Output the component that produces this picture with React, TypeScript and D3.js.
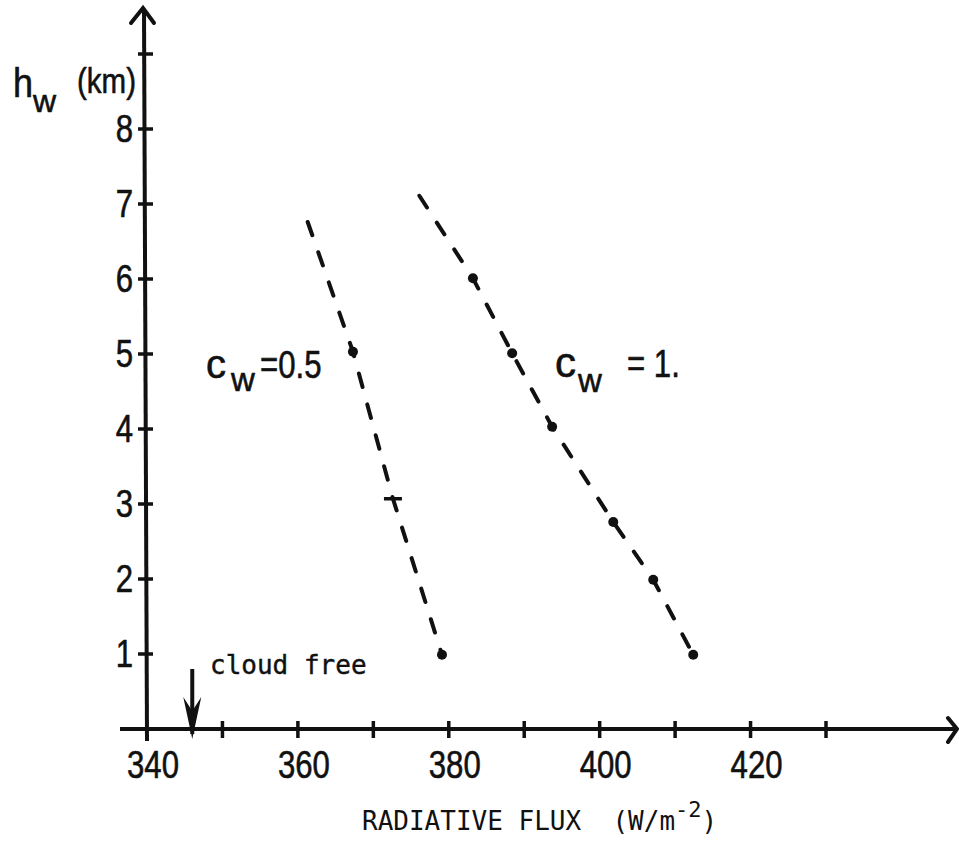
import React from 'react';
import * as d3 from 'd3';

// values
const xTicks = [350, 360, 370, 380, 390, 400, 410, 420, 430];
const xTickLabels = [340, 360, 380, 400, 420];
const yTicks = [1, 2, 3, 4, 5, 6, 7, 8, 9];
const yTickLabels = [1, 2, 3, 4, 5, 6, 7, 8];

const cw05Flux = [361.3, 367.3, 372.6, 379.1];
const cw05Height = [6.76, 5.03, 3.07, 0.99];
const cw05Marker = ['none', 'dot', 'bar', 'dot'];

const cw1Flux = [376.1, 383.2, 388.4, 393.7, 401.8, 407.1, 412.4];
const cw1Height = [7.11, 6.01, 5.01, 4.03, 2.76, 1.99, 0.99];
const cw1Marker = ['none', 'dot', 'dot', 'dot', 'dot', 'dot', 'dot'];

const cloudFreeFlux = 346;

const ink = '#111';
const letterFont = 'Liberation Sans, Arial, sans-serif';
const monoFont = 'DejaVu Sans Mono, monospace';

// hand lettering: narrow, with a bit of pen weight
function Letter({ x, y, size, anchor = 'start', sx = 0.82, children }: any) {
    return (
        <text
            transform={`translate(${x},${y}) scale(${sx},1)`}
            fontSize={size}
            textAnchor={anchor}
            fontFamily={letterFont}
            fill={ink}
            stroke={ink}
            strokeWidth={0.6}
            strokeLinejoin="round"
        >
            {children}
        </text>
    );
}

function Series({ flux, height, markers, xScale, yScale }: any) {
    const pts = flux.map((f: number, i: number) => [xScale(f), yScale(height[i])]);
    const line = d3.line();
    return (
        <g>
            <path d={line(pts) || ''} fill="none" stroke={ink} strokeWidth={4}
                strokeDasharray="14 18" strokeLinecap="round" />
            {pts.map((p: number[], i: number) => {
                if (markers[i] === 'dot') {
                    return <circle key={i} cx={p[0]} cy={p[1]} r={5} fill={ink} />;
                }
                if (markers[i] === 'bar') {
                    return <line key={i} x1={p[0] - 9} x2={p[0] + 9} y1={p[1]} y2={p[1]}
                        stroke={ink} strokeWidth={3.5} />;
                }
                return null;
            })}
        </g>
    );
}

export default function App() {
    const width = 959;
    const height = 850;

    const xScale = d3.scaleLinear().domain([340, 430]).range([147, 826]);
    const yScale = d3.scaleLinear().domain([0, 9]).range([729, 54]);

    const x0 = xScale(340);
    const y0 = yScale(0);
    const cf = xScale(cloudFreeFlux);

    return (
        <svg width={width} height={height} style={{ position: 'absolute', left: 0, top: 0, background: '#fff' }}>
            {/* axes */}
            <line x1={120} x2={957} y1={y0} y2={y0} stroke={ink} strokeWidth={4} />
            <path d={`M948,${y0 - 11} L957,${y0} L948,${y0 + 13}`} fill="none" stroke={ink} strokeWidth={4} strokeLinecap="round" />
            <line x1={x0} x2={x0 - 3} y1={y0 + 12} y2={9} stroke={ink} strokeWidth={4} />
            <path d={`M${x0 - 16},23 L${x0 - 4},8 L${x0 + 7},23`} fill="none" stroke={ink} strokeWidth={4} strokeLinecap="round" />

            {xTicks.map(t => (
                <line key={t} x1={xScale(t)} x2={xScale(t)} y1={y0 - 8} y2={y0 + 9} stroke={ink} strokeWidth={3.5} />
            ))}
            {yTicks.map(t => (
                <line key={t} x1={x0 - 9} x2={x0 + 6} y1={yScale(t)} y2={yScale(t)} stroke={ink} strokeWidth={3.5} />
            ))}

            {xTickLabels.map(t => (
                <Letter key={t} x={xScale(t) + 6} y={778} size={38} anchor="middle">{t}</Letter>
            ))}
            {yTickLabels.map(t => (
                <Letter key={t} x={133} y={yScale(t) + 13} size={38} anchor="end">{t}</Letter>
            ))}

            {/* y axis title */}
            <Letter x={13} y={97} size={40} sx={0.9}>h</Letter>
            <Letter x={33} y={112} size={32} sx={1}>w</Letter>
            <Letter x={77} y={93} size={36}>(km)</Letter>

            {/* series */}
            <Series flux={cw05Flux} height={cw05Height} markers={cw05Marker} xScale={xScale} yScale={yScale} />
            <Series flux={cw1Flux} height={cw1Height} markers={cw1Marker} xScale={xScale} yScale={yScale} />

            <Letter x={206} y={378} size={40} sx={1}>c</Letter>
            <Letter x={231} y={391} size={33} sx={1}>w</Letter>
            <Letter x={260} y={378} size={38}>=0.5</Letter>

            <Letter x={555} y={377} size={42} sx={1}>c</Letter>
            <Letter x={578} y={392} size={33} sx={1}>w</Letter>
            <Letter x={627} y={377} size={38}>= 1.</Letter>

            {/* cloud free marker */}
            <line x1={cf} x2={cf} y1={669} y2={734} stroke={ink} strokeWidth={4} />
            <path d={`M${cf - 9},697 L${cf},739 L${cf + 9},697 L${cf},711 Z`} fill={ink} />
            <text x={210} y={674} fontFamily={monoFont} fontSize={26} fill={ink} stroke={ink} strokeWidth={0.4}>cloud free</text>

            {/* x axis title */}
            <text x={362} y={830} fontFamily={monoFont} fontSize={26} fill={ink} style={{ whiteSpace: 'pre' }}>
                {'RADIATIVE FLUX  (W/m'}
                <tspan dy={-13} fontSize={22}>-2</tspan>
                <tspan dy={13}>)</tspan>
            </text>
        </svg>
    );
}
